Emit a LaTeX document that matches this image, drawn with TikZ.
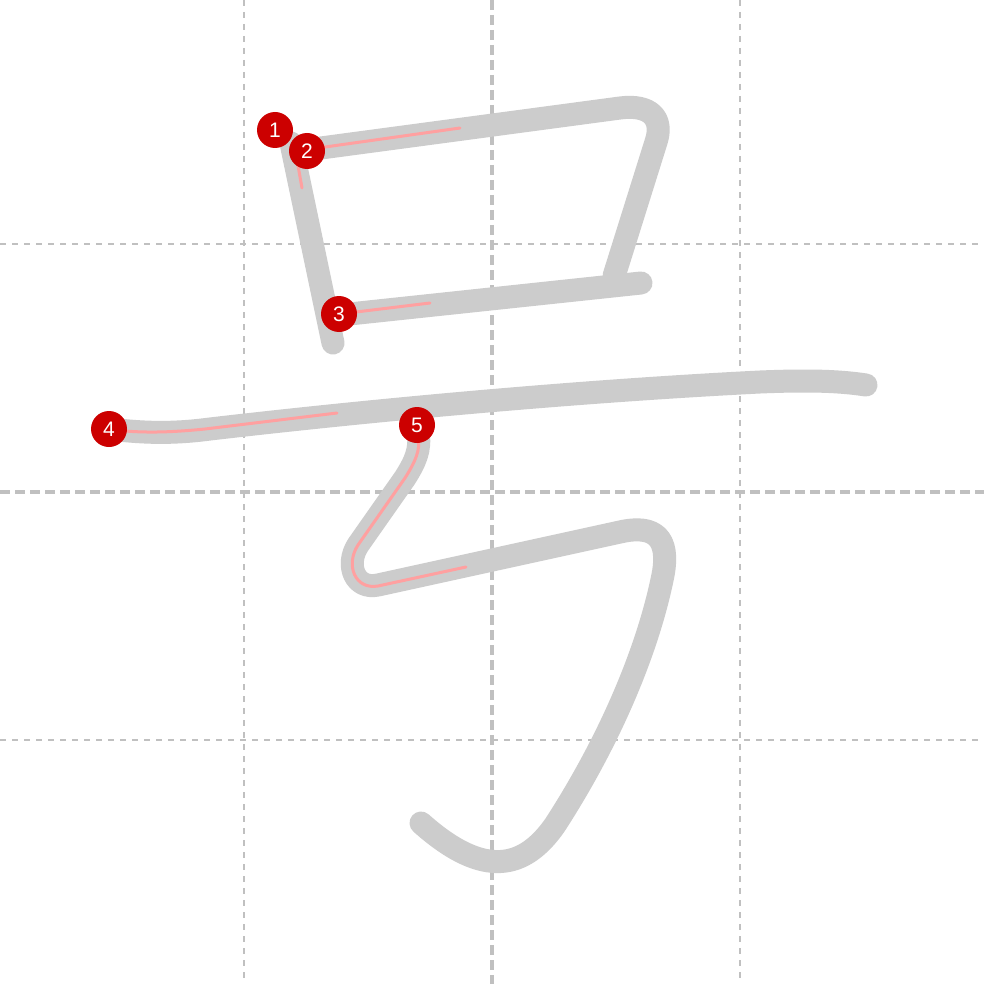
\documentclass[tikz,border=0pt]{standalone}
\usepackage{fontspec}
\setmainfont{Liberation Sans}
\definecolor{gridc}{RGB}{192,192,192}
\definecolor{strokec}{RGB}{204,204,204}
\definecolor{redline}{RGB}{255,160,160}
\definecolor{markc}{RGB}{204,0,0}
\begin{document}
\begin{tikzpicture}[x=1pt,y=-1pt,
  gridthin/.style={gridc,line width=2.4pt,dash pattern=on 6pt off 6pt},
  gridmid/.style={gridc,line width=3.6pt,dash pattern=on 10pt off 5pt},
  kstroke/.style={strokec,line width=23pt,line cap=round,line join=round},
  rstroke/.style={redline,line width=3pt,line cap=round,line join=round},
  marker/.style={circle,fill=markc,minimum size=36pt,inner sep=0pt,text=white,font=\fontsize{21pt}{21pt}\selectfont}]
\useasboundingbox (0,0) rectangle (984,984);
\fill[white] (0,0) rectangle (984,984);
% grid
\draw[gridthin] (244,0) -- (244,984);
\draw[gridthin] (740,0) -- (740,984);
\draw[gridthin] (0,244) -- (984,244);
\draw[gridthin] (0,740) -- (984,740);
\draw[gridmid] (492,0) -- (492,984);
\draw[gridmid] (0,492) -- (984,492);
% strokes
\draw[kstroke] (291,143) -- (333,343);
\draw[kstroke] (306,150) -- (620,108) .. controls (650,104) and (664,118) .. (656,142) -- (614,276);
\draw[kstroke] (340,315) -- (641,283);
\draw[kstroke] (110,429) .. controls (150,434) and (180,433) .. (210,429) .. controls (400,407) and (600,390) .. (760,382) .. controls (810,380) and (840,381) .. (866,385);
\draw[kstroke] (418,432) .. controls (421,450) and (415,462) .. (405,478) -- (358,545) .. controls (345,565) and (355,590) .. (378,585) -- (620,532) .. controls (655,524) and (670,538) .. (663,575) .. controls (648,650) and (610,740) .. (555,825) .. controls (525,868) and (485,880) .. (421,823);
% red progress lines
\draw[rstroke] (297,160) -- (302,188);
\draw[rstroke] (318,148) -- (460,128);
\draw[rstroke] (356,312) -- (430,303);
\draw[rstroke] (125,431) .. controls (150,433) and (175,432) .. (205,429) -- (337,413);
\draw[rstroke] (418,436) .. controls (421,450) and (415,462) .. (405,478) -- (358,545) .. controls (345,565) and (355,590) .. (378,586) -- (466,567);
% markers
\node[marker] (m1) at (275,130) {1};
\node[marker] (m2) at (307,151) {2};
\node[marker] (m3) at (339,314) {3};
\node[marker] (m4) at (109,429) {4};
\node[marker] (m5) at (417,425) {5};
\end{tikzpicture}
\end{document}
